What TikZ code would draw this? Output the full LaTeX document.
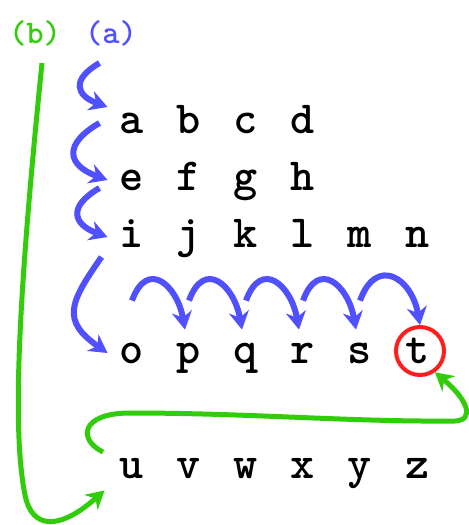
\documentclass[tikz,border=0pt]{standalone}
\usepackage{tikz}
\usetikzlibrary{arrows.meta}

\definecolor{ablue}{RGB}{80,80,255}
\definecolor{bgreen}{RGB}{50,205,10}
\definecolor{tred}{RGB}{255,30,30}

\tikzset{
  letter/.style={font=\ttfamily\bfseries\fontsize{23}{23}\selectfont, anchor=base,
    text height=10pt, text depth=0pt, inner xsep=6pt, inner ysep=0pt},
  tag/.style={font=\ttfamily\bfseries\fontsize{16.5}{16.5}\selectfont, inner sep=0pt},
  hopa/.style={draw=ablue, line width=3pt, -{Stealth[length=9pt,width=10pt]}},
  hopb/.style={draw=bgreen, line width=2.5pt, -{Stealth[length=9pt,width=10pt]}},
}

\begin{document}
\begin{tikzpicture}[x=0.5pt,y=0.5pt]
    \useasboundingbox (0,0) rectangle (469,-525);
    \node[tag, text=bgreen] (tagb) at ( 35,-33) {(b)};
    \node[tag, text=ablue]  (taga) at (111,-33) {(a)};

    \node[letter] (a) at (132,-133) {a}; \node[letter] (b) at (189,-133) {b};
    \node[letter] (c) at (246,-133) {c}; \node[letter] (d) at (303,-133) {d};
    \node[letter] (e) at (132,-190) {e}; \node[letter] (f) at (189,-190) {f};
    \node[letter] (g) at (246,-190) {g}; \node[letter] (h) at (303,-190) {h};
    \node[letter] (i) at (132,-247) {i}; \node[letter] (j) at (189,-247) {j};
    \node[letter] (k) at (246,-247) {k}; \node[letter] (l) at (303,-247) {l};
    \node[letter] (m) at (360,-247) {m}; \node[letter] (n) at (418,-247) {n};
    \node[letter] (o) at (132,-363) {o}; \node[letter] (p) at (189,-363) {p};
    \node[letter] (q) at (246,-363) {q}; \node[letter] (r) at (303,-363) {r};
    \node[letter] (s) at (360,-363) {s}; \node[letter] (t) at (418,-363) {t};
    \node[letter] (u) at (132,-478) {u}; \node[letter] (v) at (189,-478) {v};
    \node[letter] (w) at (246,-478) {w}; \node[letter] (x) at (303,-478) {x};
    \node[letter] (y) at (360,-478) {y}; \node[letter] (z) at (418,-478) {z};

    \node[draw=tred, line width=2pt, circle, minimum size=24pt, inner sep=0pt] (ring) at (420,-351) {};

    % (a) row by row, then letter by letter
    \draw[hopa] ([shift={(-8,60)}]a.west) to[out=210,in=160,looseness=1.9] ([yshift=8]a.west);
    \draw[hopa] ([shift={(-8,57)}]e.west) to[out=210,in=160,looseness=1.9] (e.west);
    \draw[hopa] ([shift={(-8,49)}]i.west) to[out=210,in=160,looseness=1.9] (i.west);
    \draw[hopa] ([shift={(-6,96)}]o.west) to[out=235,in=145,looseness=1.5] (o.west);
    \draw[hopa] ([yshift=21]o.north) to[out=70,in=100,looseness=1.9] ([shift={(-4,13)}]p.north);
    \draw[hopa] ([yshift=21]p.north) to[out=70,in=100,looseness=1.9] ([shift={(-4,13)}]q.north);
    \draw[hopa] ([yshift=21]q.north) to[out=70,in=100,looseness=1.9] ([shift={(-4,13)}]r.north);
    \draw[hopa] ([yshift=21]r.north) to[out=70,in=100,looseness=1.9] ([shift={(-4,13)}]s.north);
    \draw[hopa] ([yshift=21]s.north) to[out=70,in=100,looseness=1.9] (ring.north);

    % (b)
    \coordinate (bstart) at (42,-63);
    \coordinate (ustart) at (103,-452);
    \draw[hopb] (bstart) .. controls (18,-300) and (12,-430) .. (25,-495)
        .. controls (32,-530) and (60,-530) .. ([shift={(-3,-12)}]u.south west);
    \draw[hopb] (ustart) .. controls (78,-440) and (80,-413) .. (130,-413)
        .. controls (250,-413) and (350,-422) .. (455,-421)
        .. controls (475,-420) and (468,-400) .. (ring.-55);
\end{tikzpicture}
\end{document}
